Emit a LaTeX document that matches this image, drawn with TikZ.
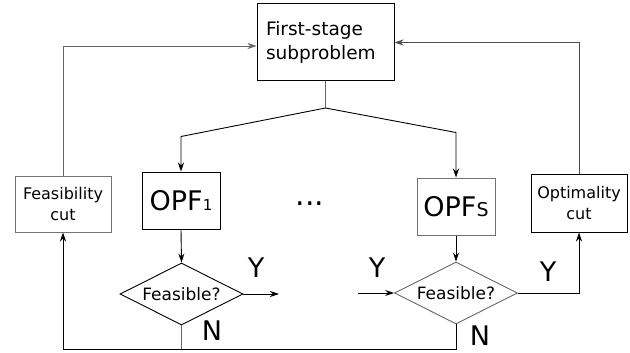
\documentclass[tikz,border=0pt]{standalone}
\usepackage{fontspec}
\setmainfont{DejaVu Sans}
\usetikzlibrary{shapes.geometric,arrows.meta}
\begin{document}
\begin{tikzpicture}[x=1pt,y=-1pt,
  box/.style={draw, line width=1pt, inner sep=0pt, align=center},
  gbox/.style={box, draw=black!55},
  dia/.style={diamond, aspect=2, draw, line width=0.9pt, inner sep=0pt, minimum width=123pt, minimum height=62pt, font=\fontsize{17}{18}\selectfont},
  arr/.style={-{Stealth[length=9pt,width=6pt,inset=3pt]}, line width=0.9pt},
  ln/.style={line width=0.9pt},
  lab/.style={font=\fontsize{27}{27}\selectfont, inner sep=0pt}]
\useasboundingbox (0,0) rectangle (630,353);

\node[box, align=left, text width=119pt, inner xsep=9pt, minimum height=77pt,
      font=\fontsize{18.5}{24}\selectfont] (fs) at (325.5,42.5) {First-stage\\subproblem};
\node[box, minimum width=78pt, minimum height=57pt] (op1) at (181,200.5)
  {{\fontsize{27}{27}\selectfont OPF}{\fontsize{15}{15}\selectfont 1}};
\node[gbox, minimum width=78pt, minimum height=57pt] (op2) at (456,206.5)
  {{\fontsize{27}{27}\selectfont OPF}{\fontsize{19}{19}\selectfont S}};
\node[gbox, minimum width=96pt, minimum height=56pt, font=\fontsize{16}{21}\selectfont] (fc) at (63,204) {Feasibility\\cut};
\node[box, minimum width=96pt, minimum height=58pt, font=\fontsize{16}{21}\selectfont] (oc) at (579,203) {Optimality\\cut};
\node[dia] (d1) at (181.5,294) {Feasible?};
\node[dia, draw=black!60] (d2) at (456,293) {Feasible?};
\node[anchor=base, inner sep=0pt, font=\fontsize{30}{30}\selectfont] (dots) at (310,205) {...};

\node[lab] (y1) at (256,268) {Y};
\node[lab] (y2) at (377,267.5) {Y};
\node[lab] (y3) at (548,272) {Y};
\node[lab] (n1) at (212,331) {N};
\node[lab] (n2) at (480,336) {N};

\coordinate (j) at (fs.south |- 0,108);
\path (op1.north) ++(0,-35) coordinate (bl);
\path (op2.north) ++(0,-45) coordinate (br);
\coordinate (ye) at (279,294);
\coordinate (ys) at (358,293);
\coordinate (bot) at (0,349);

\draw[ln, draw=black!60] (fs.south) -- (j);
\draw[arr] (j) -- (bl) -- (op1.north);
\draw[arr] (j) -- (br) -- (op2.north);
\draw[arr, draw=black!60] (fc.north) |- ([yshift=-3.5pt]fs.west);
\draw[arr, draw=black!70] (oc.north) |- (fs.east);
\draw[arr] (op1.south) -- (d1.north);
\draw[arr] (op2.south) -- (d2.north);
\draw[arr] (d1.east) -- (ye);
\draw[arr] (ys) -- (d2.west);
\draw[arr] (d2.east) -| (oc.south);
\draw[ln, draw=black!60] (d1.south) -- (d1.south |- bot);
\draw[arr] (d2.south) -- (d2.south |- bot) -| (fc.south);
\end{tikzpicture}
\end{document}
